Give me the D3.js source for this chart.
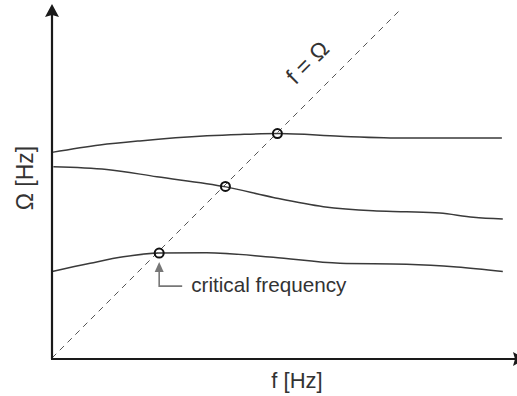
<!DOCTYPE html>
<html>
<head>
<meta charset="utf-8">
<script src="https://cdn.jsdelivr.net/npm/d3@7"></script>
<style>
  html, body { margin: 0; padding: 0; background: #fff; }
  svg { display: block; }
  text { font-family: Arial, "Liberation Sans", sans-serif; fill: #333; }
</style>
</head>
<body>
<svg id="chart" width="517" height="396"></svg>
<script>
// Natural frequency branches Ω(f), sampled along the excitation frequency f
const curveNames = ["mode3", "mode2", "mode1"];
const fSamples = [
  [0, 1.04, 1.91, 3.37, 4.09, 4.93, 6.26, 7.72, 9.78],
  [0.03, 1.19, 2.28, 3.78, 4.81, 5.90, 6.98, 7.71, 8.43, 9.16, 9.80],
  [0, 0.83, 1.55, 2.33, 3.36, 4.81, 6.26, 7.71, 8.80, 9.80]
];
const omegaSamples = [
  [4.47, 4.63, 4.72, 4.83, 4.86, 4.88, 4.82, 4.78, 4.78],
  [4.16, 4.10, 3.94, 3.72, 3.49, 3.29, 3.20, 3.18, 3.15, 3.06, 3.02],
  [1.88, 2.06, 2.20, 2.28, 2.29, 2.19, 2.06, 2.04, 1.98, 1.88]
];
// Crossings with the f = Ω line (critical frequencies)
const criticalF = [4.90, 3.77, 2.33];
const criticalOmega = [4.88, 3.73, 2.28];
const diagonalEnd = 7.6;
const axisLabels = { x: "f [Hz]", y: "Ω [Hz]", diagonal: "f = Ω", note: "critical frequency" };

const svg = d3.select("#chart");
const x = d3.scaleLinear().domain([0, 10]).range([52, 512]);
const y = d3.scaleLinear().domain([0, 10]).range([358, -102]);

// Dashed f = Ω line
svg.append("line")
  .attr("x1", x(0)).attr("y1", y(0))
  .attr("x2", x(diagonalEnd)).attr("y2", y(diagonalEnd))
  .attr("stroke", "#555").attr("stroke-width", 1)
  .attr("stroke-dasharray", "6,5");

// Branch curves
const line = d3.line().x(d => x(d[0])).y(d => y(d[1])).curve(d3.curveMonotoneX);
curveNames.forEach((name, i) => {
  const pts = fSamples[i].map((f, j) => [f, omegaSamples[i][j]]);
  svg.append("path")
    .attr("class", name)
    .attr("d", line(pts))
    .attr("fill", "none")
    .attr("stroke", "#3a3a3a")
    .attr("stroke-width", 1.5);
});

// Axes with arrowheads
const axisColor = "#1a1a1a";
svg.append("line")
  .attr("x1", x(0)).attr("y1", y(0) + 1)
  .attr("x2", x(0)).attr("y2", 14)
  .attr("stroke", axisColor).attr("stroke-width", 2.2);
svg.append("line")
  .attr("x1", x(0) - 1).attr("y1", y(0) + 1)
  .attr("x2", 516).attr("y2", y(0) + 1)
  .attr("stroke", axisColor).attr("stroke-width", 2.2);
svg.append("path")
  .attr("d", `M${x(0)},4 L${x(0) + 7},17 L${x(0)},15 L${x(0) - 7},17 Z`)
  .attr("fill", axisColor);
svg.append("path")
  .attr("d", `M526,${y(0) + 1} L513,${y(0) + 8} L515,${y(0) + 1} L513,${y(0) - 6} Z`)
  .attr("fill", axisColor);

// Critical frequency markers
svg.selectAll("circle.crit")
  .data(criticalF.map((f, i) => [f, criticalOmega[i]]))
  .join("circle")
  .attr("class", "crit")
  .attr("cx", d => x(d[0])).attr("cy", d => y(d[1]))
  .attr("r", 4.5)
  .attr("fill", "none")
  .attr("stroke", "#111").attr("stroke-width", 2);

// Annotation arrow to the lowest crossing
const cx = x(criticalF[2]), cy = y(criticalOmega[2]);
svg.append("path")
  .attr("d", `M${cx + 23},${cy + 33} L${cx},${cy + 33} L${cx},${cy + 17}`)
  .attr("fill", "none").attr("stroke", "#777").attr("stroke-width", 1.6);
svg.append("path")
  .attr("d", `M${cx},${cy + 9} L${cx + 4.5},${cy + 19} L${cx - 4.5},${cy + 19} Z`)
  .attr("fill", "#777");
svg.append("text")
  .attr("x", cx + 32).attr("y", cy + 39)
  .attr("font-size", 20.7)
  .text(axisLabels.note);

// Axis titles
svg.append("text")
  .attr("x", 297).attr("y", 388)
  .attr("text-anchor", "middle")
  .attr("font-size", 22)
  .text(axisLabels.x);
svg.append("text")
  .attr("transform", "translate(33,178) rotate(-90)")
  .attr("text-anchor", "middle")
  .attr("font-size", 23)
  .text(axisLabels.y);

// Diagonal label
svg.append("text")
  .attr("transform", "translate(313,68) rotate(-45)")
  .attr("text-anchor", "middle")
  .attr("font-size", 23)
  .text(axisLabels.diagonal);
</script>
</body>
</html>
